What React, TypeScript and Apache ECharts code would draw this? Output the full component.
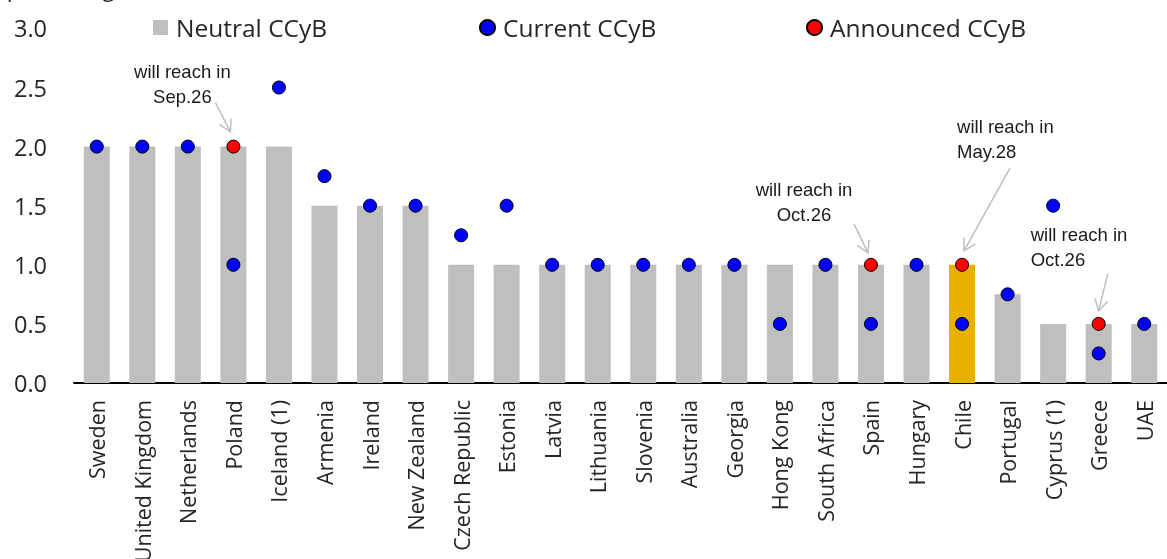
import React, { useEffect, useRef } from "react";
import * as echarts from "echarts";

const categories = [
  "Sweden", "United Kingdom", "Netherlands", "Poland", "Iceland (1)", "Armenia",
  "Ireland", "New Zealand", "Czech Republic", "Estonia", "Latvia", "Lithuania",
  "Slovenia", "Australia", "Georgia", "Hong Kong", "South Africa", "Spain",
  "Hungary", "Chile", "Portugal", "Cyprus (1)", "Greece", "UAE",
];

const neutralCCyB = [
  2.0, 2.0, 2.0, 2.0, 2.0, 1.5,
  1.5, 1.5, 1.0, 1.0, 1.0, 1.0,
  1.0, 1.0, 1.0, 1.0, 1.0, 1.0,
  1.0, 1.0, 0.75, 0.5, 0.5, 0.5,
];

const currentCCyB = [
  2.0, 2.0, 2.0, 1.0, 2.5, 1.75,
  1.5, 1.5, 1.25, 1.5, 1.0, 1.0,
  1.0, 1.0, 1.0, 0.5, 1.0, 0.5,
  1.0, 0.5, 0.75, 1.5, 0.25, 0.5,
];

const announcedCCyB = [
  null, null, null, 2.0, null, null,
  null, null, null, null, null, null,
  null, null, null, null, null, 1.0,
  null, 1.0, null, null, 0.5, null,
];

const seriesNames = ["Neutral CCyB", "Current CCyB", "Announced CCyB"];

const highlightedCategory = "Chile";

const annotationTexts = [
  { category: "Poland", value: 2.0, lines: ["will reach in", "Sep.26"] },
  { category: "Spain", value: 1.0, lines: ["will reach in", "Oct.26"] },
  { category: "Chile", value: 1.0, lines: ["will reach in", "May.28"] },
  { category: "Greece", value: 0.5, lines: ["will reach in", "Oct.26"] },
];

// layout of each annotation, relative to the annotated point (pixels)
const annotationLayout = [
  { align: "center", dx: -51, dy: -75, tail: [-18, -44], tip: [-3, -15] },
  { align: "center", dx: -67, dy: -75, tail: [-17, -41], tip: [-3, -12] },
  { align: "left", dx: -5, dy: -138, tail: [48, -97], tip: [2, -14] },
  { align: "left", dx: -68, dy: -89, tail: [9, -50], tip: [0, -13] },
];

const FONT = "Open Sans";
const TEXT = "#262626";

export default function App() {
  const ref = useRef<HTMLDivElement>(null);

  useEffect(() => {
    if (!ref.current) return;
    document.body.style.margin = "0";
    document.body.style.overflow = "hidden";
    const chart = echarts.init(ref.current, null, { renderer: "svg" });

    const legendLefts = [153, 479, 806];
    const legendIcons = ["rect", "circle", "circle"];

    const option: any = {
      animation: false,
      legend: seriesNames.map((name, i) => ({
        left: legendLefts[i],
        top: 15,
        padding: 0,
        itemWidth: 15,
        itemHeight: 15,
        textStyle: {
          fontSize: 24.5,
          fontFamily: FONT,
          color: TEXT,
          padding: [0, 0, 0, 3],
        },
        data: [{ name, icon: legendIcons[i] }],
      })),
      grid: {
        left: 74,
        right: 0,
        top: 28.4,
        bottom: 176,
        containLabel: false,
        outerBoundsMode: "none",
      },
      xAxis: {
        type: "category",
        data: categories,
        axisLine: { lineStyle: { color: "#000", width: 2 } },
        axisTick: { length: 8, lineStyle: { color: "#000", width: 1.5 } },
        axisLabel: {
          rotate: 90,
          margin: 17,
          interval: 0,
          fontSize: 21.5,
          fontFamily: FONT,
          color: TEXT,
        },
      },
      yAxis: {
        type: "value",
        min: 0,
        max: 3,
        interval: 0.5,
        axisLine: { show: false },
        axisTick: { show: false },
        splitLine: { show: false },
        axisLabel: {
          formatter: (v: number) => v.toFixed(1),
          fontSize: 23.5,
          fontFamily: FONT,
          color: TEXT,
          margin: 27,
        },
      },
      series: [
        {
          name: seriesNames[0],
          type: "bar",
          barWidth: 26,
          itemStyle: { color: "#bfbfbf" },
          data: neutralCCyB.map((v, i) =>
            categories[i] === highlightedCategory
              ? { value: v, itemStyle: { color: "#e8b100" } }
              : v
          ),
          z: 1,
        },
        {
          name: seriesNames[1],
          type: "scatter",
          symbol: "circle",
          symbolSize: 13,
          itemStyle: { color: "#0000ff", borderColor: "#000", borderWidth: 1, opacity: 1 },
          data: currentCCyB,
          z: 3,
        },
        {
          name: seriesNames[2],
          type: "scatter",
          symbol: "circle",
          symbolSize: 13,
          itemStyle: { color: "#ff0000", borderColor: "#000", borderWidth: 1, opacity: 1 },
          data: announcedCCyB,
          z: 4,
        },
      ],
    };

    chart.setOption(option);

    const graphics: any[] = [
      {
        type: "text",
        style: {
          x: 0,
          y: -13.5,
          text: "(percentage of RWA)",
          font: `23px "${FONT}"`,
          fill: TEXT,
          textAlign: "left",
          verticalAlign: "middle",
        },
      },
    ];

    annotationTexts.forEach((a, k) => {
      const lay = annotationLayout[k];
      const idx = categories.indexOf(a.category);
      const p = chart.convertToPixel({ xAxisIndex: 0, yAxisIndex: 0 }, [idx, a.value]) as number[];
      const tail = [p[0] + lay.tail[0], p[1] + lay.tail[1]];
      const tip = [p[0] + lay.tip[0], p[1] + lay.tip[1]];
      const ang = Math.atan2(tip[1] - tail[1], tip[0] - tail[0]);
      const arm = 13;
      const spread = Math.PI / 6;
      const h1 = [tip[0] - arm * Math.cos(ang - spread), tip[1] - arm * Math.sin(ang - spread)];
      const h2 = [tip[0] - arm * Math.cos(ang + spread), tip[1] - arm * Math.sin(ang + spread)];
      graphics.push({
        type: "polyline",
        shape: { points: [tail, tip] },
        style: { stroke: "#bfbfbf", lineWidth: 1.5, fill: null },
        z: 10,
      });
      graphics.push({
        type: "polyline",
        shape: { points: [h1, tip, h2] },
        style: { stroke: "#bfbfbf", lineWidth: 1.5, fill: null },
        z: 10,
      });
      graphics.push({
        type: "text",
        style: {
          x: p[0] + lay.dx,
          y: p[1] + lay.dy - 12.5,
          text: a.lines.join("\n"),
          font: `18.5px "Liberation Sans"`,
          lineHeight: 25,
          fill: "#1a1a1a",
          textAlign: lay.align,
          verticalAlign: "top",
        },
        z: 10,
      });
    });

    chart.setOption({ graphic: graphics });

    return () => chart.dispose();
  }, []);

  return (
    <div
      style={{
        position: "fixed",
        left: 0,
        top: 0,
        width: 1167,
        height: 559,
        overflow: "hidden",
      }}
    >
      <div ref={ref} style={{ width: 1167, height: 559 }} />
    </div>
  );
}
